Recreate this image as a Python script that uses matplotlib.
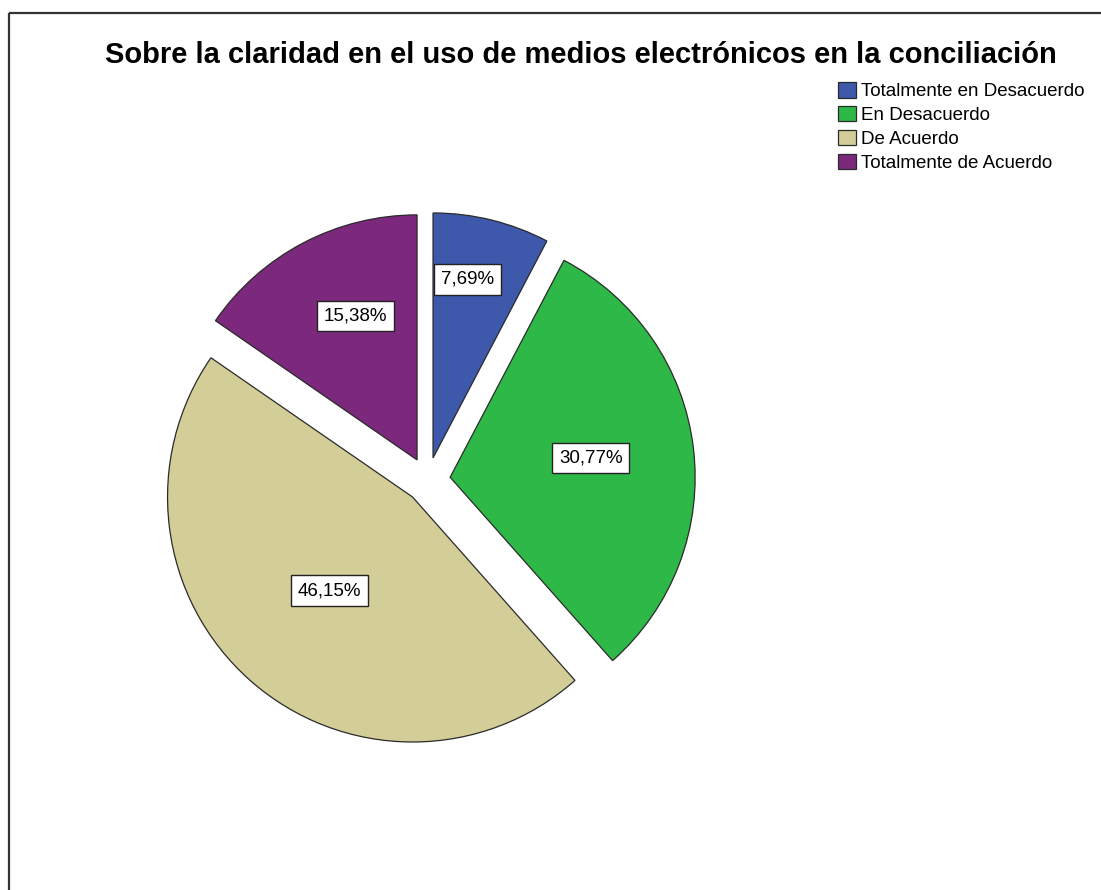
import numpy as np
import matplotlib
matplotlib.use('Agg')
import matplotlib.pyplot as plt

# datos del grafico
categorias = ['Totalmente en Desacuerdo', 'En Desacuerdo', 'De Acuerdo', 'Totalmente de Acuerdo']
porcentajes = [7.69, 30.77, 46.15, 15.38]
colores = ['#3E58AC', '#2EB848', '#D3CE97', '#7C287D']
titulo = 'Sobre la claridad en el uso de medios electrónicos en la conciliación'

plt.rcParams['font.family'] = ['Liberation Sans', 'DejaVu Sans']

W, H = 1101, 890
fig = plt.figure(figsize = (W / 100 , H / 100), dpi = 100)
ax = fig.add_axes([0 , 0 , 1 , 1])

radio = 245
centro = (427.6 , H - 480)
separacion = 22.7

wedges , textos = ax.pie(porcentajes , colors = colores , startangle = 90 , counterclock = False ,
                          radius = radio , center = centro , explode = [separacion] * len(porcentajes) ,
                          wedgeprops = dict(edgecolor = '#2a2a2a' , linewidth = 0.9))

# etiquetas de porcentaje en cajas blancas (distancia relativa y ajuste de angulo)
dist_etiqueta = [0.742 , 0.58 , 0.51 , 0.64]
ajuste_ang = [2.9 , 0.9 , 0.0 , -4.4]
for w , p , d , da in zip(wedges , porcentajes , dist_etiqueta , ajuste_ang) :
    ang = np.deg2rad((w.theta1 + w.theta2) / 2 + da)
    cx , cy = w.center
    ax.text(cx + d * radio * np.cos(ang) , cy + d * radio * np.sin(ang) ,
            ('%.2f%%' % p).replace('.' , ',') , ha = 'center' , va = 'center' , fontsize = 13.5 ,
            bbox = dict(boxstyle = 'square,pad=0.36' , facecolor = 'white' , edgecolor = '#222222' , linewidth = 1.0))

ax.set_xlim(0 , W)
ax.set_ylim(0 , H)
ax.set_aspect('equal')
ax.axis('off')

# borde del marco
ax.plot([9 , 9] , [0 , H - 13] , color = '#333333' , linewidth = 1.6 , solid_capstyle = 'butt')
ax.plot([9 , W] , [H - 13 , H - 13] , color = '#333333' , linewidth = 1.6 , solid_capstyle = 'butt')

ax.text(581 , H - 55 , titulo , ha = 'center' , va = 'center' , fontsize = 21 , fontweight = 'bold')

ax.legend(wedges , categorias , loc = 'upper left' , bbox_to_anchor = (838 / W , 1 - 82 / H) ,
          bbox_transform = fig.transFigure , frameon = False , borderpad = 0 , borderaxespad = 0 ,
          fontsize = 13.5 , handlelength = 0.95 , handleheight = 0.9 , handletextpad = 0.3 ,
          labelspacing = 0.3)

fig.savefig('out.png' , dpi = 100)
